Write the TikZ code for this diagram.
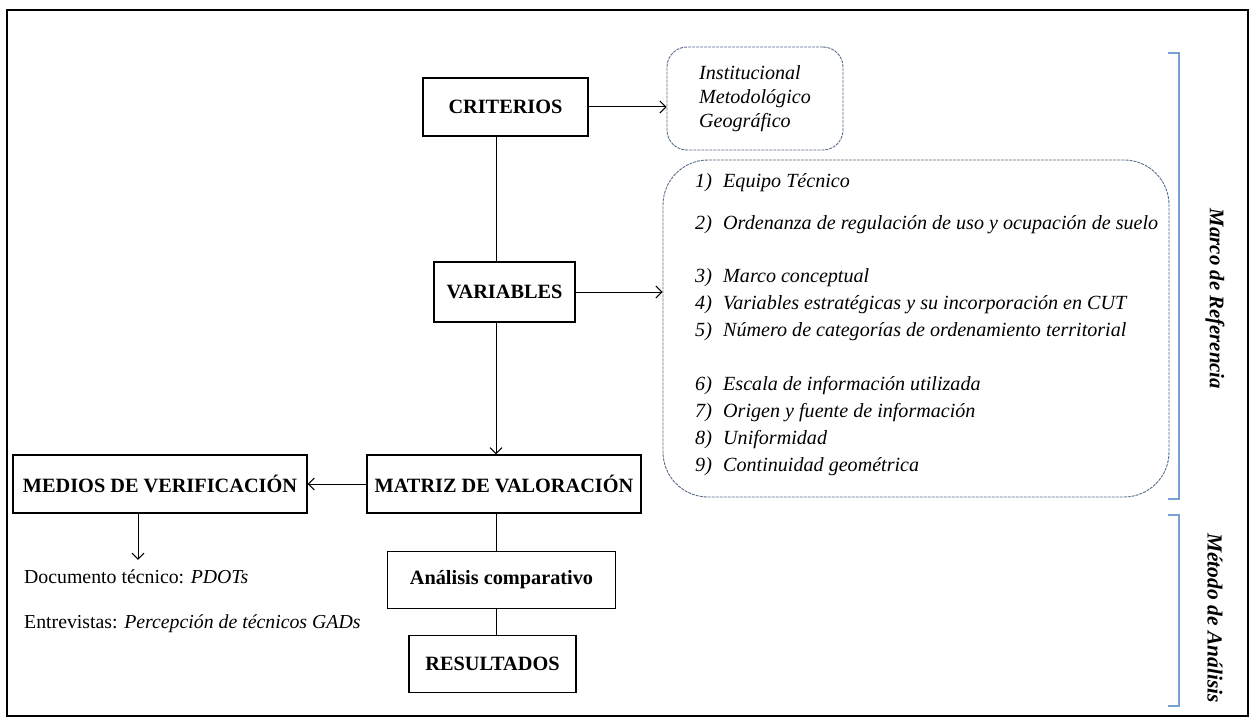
\documentclass[tikz,border=0pt]{standalone}
\usepackage{fontspec}
\setmainfont{Liberation Serif}
\usetikzlibrary{arrows.meta}
\definecolor{bordeazul}{RGB}{88,106,136}
\definecolor{corcheteazul}{RGB}{120,160,212}

\begin{document}
\begin{tikzpicture}[x=1pt,y=-1pt,
    >={Straight Barb[length=6pt,width=12pt]},
    caja/.style={draw,line width=1.2pt,inner sep=0pt,font=\fontsize{20.3}{24}\selectfont\bfseries},
    nube/.style={draw=bordeazul,dash pattern=on 3pt off 1pt,line width=0.9pt,inner sep=0pt},
    cursiva/.style={font=\fontsize{20.1}{24}\selectfont\itshape},
    corchete/.style={draw=corcheteazul,line width=1.3pt},
    flecha/.style={->,line width=1pt}]
    \useasboundingbox (0,0) rectangle (1253,722);
    % marco exterior
    \draw[line width=2.4pt] (7,10) rectangle (1248,716);
    \coordinate (eje) at (496,0);
    \coordinate (ejemedios) at (138,0);
    % cajas del flujo principal
    \node[caja,minimum width=165,minimum height=58] (crit) at (505.5,107) {CRITERIOS};
    \node[caja,minimum width=141,minimum height=60] (var) at (504.5,292) {VARIABLES};
    \node[caja,minimum width=274,minimum height=58] (matriz) at (504,484) {MATRIZ DE VALORACIÓN};
    \node[caja,minimum width=294,minimum height=58] (medios) at (160,484) {MEDIOS DE VERIFICACIÓN};
    \node[caja,minimum width=228,minimum height=57] (analisis) at (501.5,580) {Análisis comparativo};
    \node[caja,minimum width=167,minimum height=57] (result) at (492.5,664) {RESULTADOS};
    % criterios
    \node[nube,rounded corners=20,minimum width=176,minimum height=103,align=left,
          cursiva] (tipos) at (755,98.5) {Institucional\\Metodológico\\Geográfico};
    % variables
    \node[nube,rounded corners=45,minimum width=506,minimum height=337] (lista) at (916,328.5) {};
    \foreach \y/\n/\t in {183/1/Equipo Técnico,
                          225/2/Ordenanza de regulación de uso y ocupación de suelo,
                          278/3/Marco conceptual,
                          305/4/Variables estratégicas y su incorporación en CUT,
                          332/5/Número de categorías de ordenamiento territorial,
                          386/6/Escala de información utilizada,
                          413/7/Origen y fuente de información,
                          440/8/Uniformidad,
                          467/9/Continuidad geométrica}
        \node[cursiva,anchor=west,inner sep=0pt] (item\n) at (695,\y) {\makebox[28pt][l]{\n)}\t};
    % medios de verificacion
    \node[anchor=west,inner sep=0pt,font=\fontsize{19.8}{24}\selectfont] (doc) at (24,577)
        {Documento técnico: \textit{PDOTs}};
    \node[anchor=west,inner sep=0pt,font=\fontsize{19.8}{24}\selectfont] (entrev) at (24,624)
        {Entrevistas: \textit{Percepción de técnicos GADs}};
    % conectores
    \draw[flecha] (crit.east) -- (crit.east -| tipos.west);
    \draw[flecha] (var.east) -- (var.east -| lista.west);
    \draw[line width=1pt] (crit.south -| eje) -- (var.north -| eje);
    \draw[flecha] (var.south -| eje) -- (matriz.north -| eje);
    \draw[flecha] (matriz.west) -- (medios.east);
    \draw[flecha] (medios.south -| ejemedios) -- ([yshift=10pt]doc.north -| ejemedios);
    \draw[line width=1pt] (matriz.south -| eje) -- (analisis.north -| eje);
    \draw[line width=1pt] (analisis.south -| eje) -- (result.north -| eje);
    % corchetes laterales
    \draw[corchete] (1168,53) -- (1179,53) -- (1179,499) -- (1168,499);
    \draw[corchete] (1168,515) -- (1179,515) -- (1179,706) -- (1168,706);
    \node[rotate=-90,font=\fontsize{20.8}{24}\selectfont\bfseries\itshape] (marco) at (1215,299) {Marco de Referencia};
    \node[rotate=-90,font=\fontsize{21.5}{24}\selectfont\bfseries\itshape] (metodo) at (1215,618) {Método de Análisis};
\end{tikzpicture}
\end{document}
